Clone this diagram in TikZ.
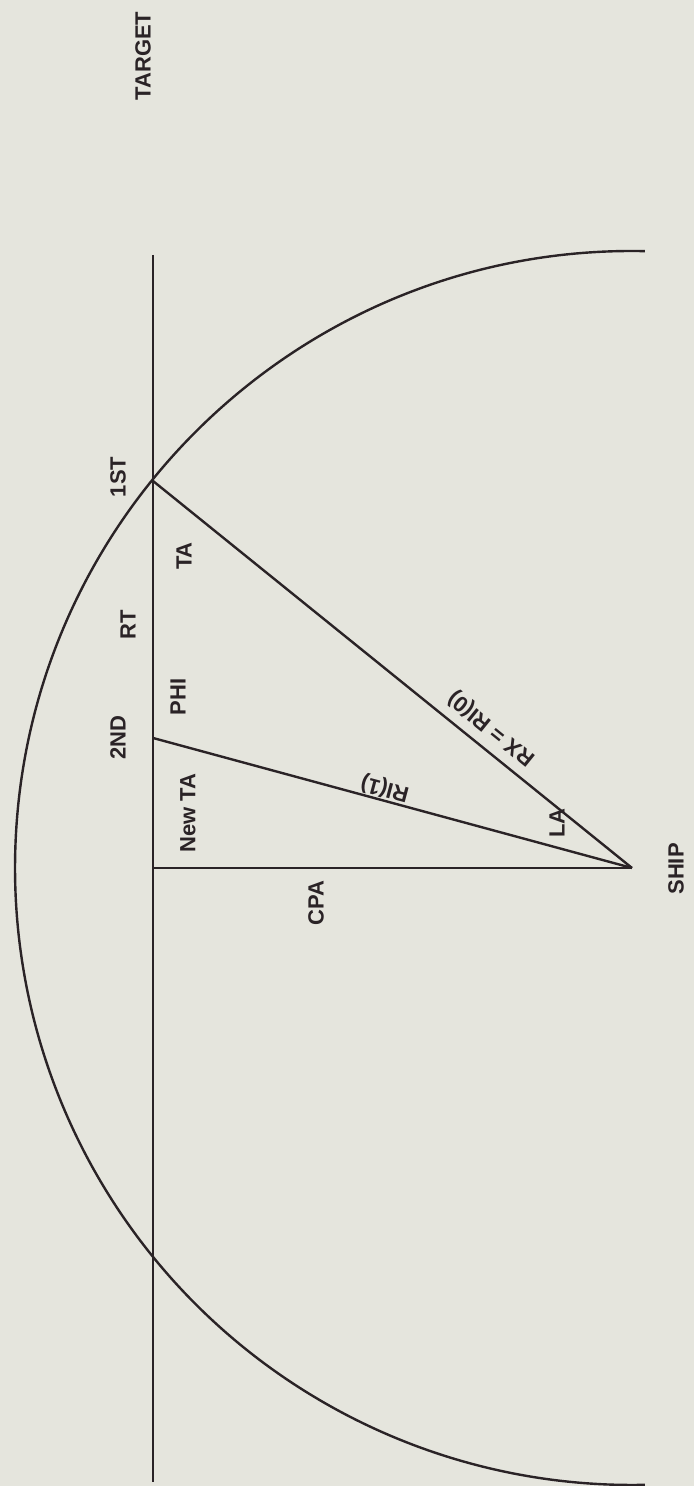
\documentclass[tikz,border=0pt]{standalone}
\usepackage{fontspec}
\setmainfont{Liberation Sans}
\usepackage{xcolor}
\usepackage{tikz}
\usetikzlibrary{calc,positioning}
\definecolor{paperGrey}{HTML}{E5E5DD}
\definecolor{penInk}{HTML}{2A2326}

\begin{document}
\begin{tikzpicture}[x=0.5pt, y=0.5pt,
    lbl/.style={inner sep=0pt, rotate=90, font=\fontsize{11}{13}\selectfont\bfseries, text=penInk},
    slant/.style={inner sep=0pt, font=\fontsize{11}{13}\selectfont\bfseries, text=penInk},
    ln/.style={draw=penInk, line width=1.2pt}
]
% Paper
\fill[paperGrey] (0,0) rectangle (694,1486);
\useasboundingbox (0,0) rectangle (694,1486);
% Points
\coordinate (tgttop) at (153,1231);
\coordinate (tgtbot) at (153,4);
\coordinate (first) at (153,1005);
\coordinate (second) at (153,748);
\coordinate (foot) at (153,618);
\coordinate (ship) at (632,618);
% Labels
\node[lbl] (target) at (143,1430) {TARGET};
\node[lbl] (firstlbl) at (118,1009) {1ST};
\node[lbl] (rt) at (128,861) {RT};
\node[lbl] (secondlbl) at (118,748) {2ND};
\node[lbl] (ta) at (184,930) {TA};
\node[lbl] (phi) at (178,789) {PHI};
\node[lbl] (newta) at (188,673) {New TA};
\node[lbl] (la) at (557,663) {LA};
\node[lbl] (shiplbl) at (676,617) {SHIP};
\node[lbl] (cpa) at (316,583) {CPA};
\node[slant, rotate=141] (rx) at (492,758) {RX = RI(0)};
\node[slant, rotate=165] (rione) at (385,698) {RI(1)};
% Lines
\draw[ln] (tgttop) -- (tgtbot);
\draw[ln] (foot) -- (ship);
\draw[ln] (first) -- (ship);
\draw[ln] (second) -- (ship);
\draw[ln] (ship) ++(88.8:308.5pt) arc[start angle=88.8, end angle=271.2, radius=308.5pt];
\end{tikzpicture}
\end{document}
